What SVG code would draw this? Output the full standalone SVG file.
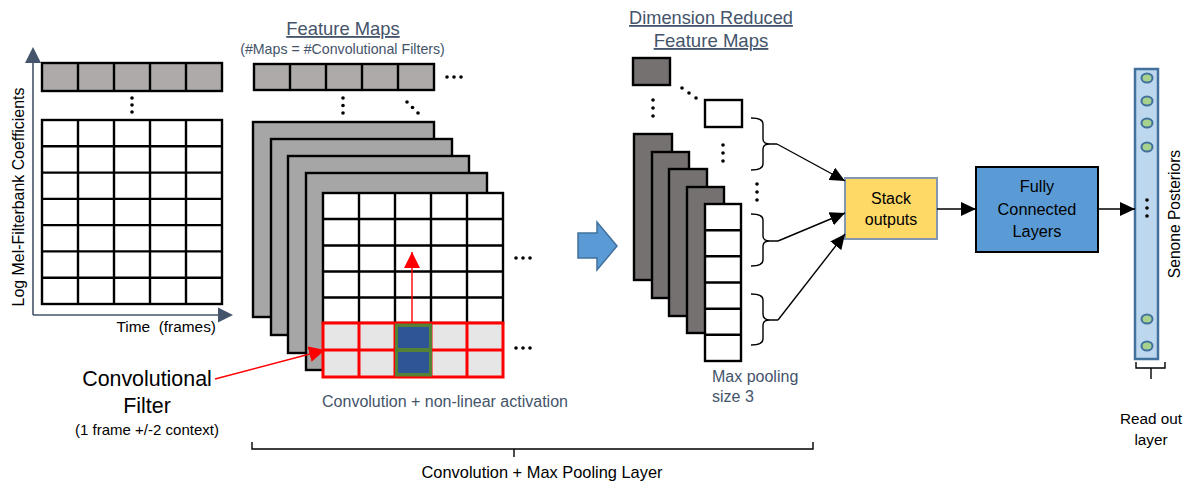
<svg xmlns="http://www.w3.org/2000/svg" width="1195" height="487" viewBox="0 0 1195 487">
<style>
text{font-family:"Liberation Sans",Arial,sans-serif;fill:#000}
.sl{fill:#44546A}
.ul{text-decoration:underline}
.c{text-anchor:middle}
.grid{fill:#fff;stroke:#000;stroke-width:2.4}
.gl{stroke:#000;stroke-width:2.4;fill:none}
.lg{fill:#AEAAAA;stroke:#000;stroke-width:2.4}
.mg{fill:#A6A6A6;stroke:#000;stroke-width:2.4}
.dg{fill:#767171;stroke:#000;stroke-width:2.4}
.wb{fill:#fff;stroke:#000;stroke-width:2.4}
.dot{fill:#000}
.br{fill:none;stroke:#000;stroke-width:1.4}
.con{stroke:#000;stroke-width:1.4;fill:none}
.red{stroke:#FF0000;stroke-width:1.4;fill:none}
.neu{fill:#A9D18E;stroke:#41719C;stroke-width:2}
</style>
<defs>
<marker id="ah" markerUnits="userSpaceOnUse" markerWidth="16" markerHeight="14" refX="15" refY="7" orient="auto">
<path d="M0,0 L15,7 L0,14 Z" fill="#000"/>
</marker>
<marker id="rh" markerUnits="userSpaceOnUse" markerWidth="17" markerHeight="16" refX="16" refY="8" orient="auto">
<path d="M0,0 L16,8 L0,16 Z" fill="#FF0000"/>
</marker>
</defs>

<!-- Input spectrogram -->
<g id="input">
<line x1="33" y1="315" x2="33" y2="60" stroke="#44546A" stroke-width="1.6"/>
<path d="M25,63 L41,63 L33,47 Z" fill="#44546A"/>
<line x1="33" y1="315" x2="220" y2="315" stroke="#44546A" stroke-width="1.6"/>
<path d="M218,307.5 L218,322.5 L233,315 Z" fill="#44546A"/>
<rect class="lg" x="42" y="63" width="180" height="28"/>
<path class="gl" d="M78,63V91M114,63V91M150,63V91M186,63V91"/>
<circle class="dot" cx="132" cy="98" r="1.8"/><circle class="dot" cx="132" cy="105" r="1.8"/><circle class="dot" cx="132" cy="112" r="1.8"/>
<rect class="grid" x="42" y="120" width="180" height="184"/>
<path class="gl" d="M78,120V304M114,120V304M150,120V304M186,120V304M42,146.3H222M42,172.6H222M42,198.9H222M42,225.1H222M42,251.4H222M42,277.7H222"/>
<text x="24" y="197" class="c" font-size="15.9" transform="rotate(-90 24 197)">Log Mel-Filterbank Coefficients</text>
<text x="216" y="332" font-size="15.4" text-anchor="end" style="white-space:pre">Time  (frames)</text>
</g>

<!-- Feature maps -->
<g id="feature-maps">
<text x="343" y="35" class="c sl ul" font-size="18.4">Feature Maps</text>
<text x="342.5" y="54" class="c sl" font-size="14.2">(#Maps = #Convolutional Filters)</text>
<rect class="lg" x="254" y="64" width="180" height="26"/>
<path class="gl" d="M290,64V90M326,64V90M362,64V90M398,64V90"/>
<circle class="dot" cx="447" cy="77" r="1.8"/><circle class="dot" cx="454" cy="77" r="1.8"/><circle class="dot" cx="461" cy="77" r="1.8"/>
<circle class="dot" cx="343" cy="98" r="1.8"/><circle class="dot" cx="343" cy="105.5" r="1.8"/><circle class="dot" cx="343" cy="113" r="1.8"/>
<circle class="dot" cx="407" cy="102" r="1.8"/><circle class="dot" cx="412.5" cy="107.5" r="1.8"/><circle class="dot" cx="418" cy="113" r="1.8"/>
<rect class="mg" x="253" y="122" width="181" height="195"/>
<rect class="mg" x="271" y="139" width="181" height="196"/>
<rect class="mg" x="288" y="156" width="181" height="197"/>
<rect class="mg" x="306" y="173" width="181" height="197"/>
<rect class="grid" x="323" y="193" width="180" height="130"/>
<path class="gl" d="M359,193V323M395,193V323M431,193V323M467,193V323M323,219H503M323,245.5H503M323,271.5H503M323,297.5H503"/>
<rect x="323" y="323" width="180" height="54" fill="#E7E6E6" stroke="#FF0000" stroke-width="3"/>
<path d="M359,323V377M395,323V377M431,323V377M467,323V377M323,350H503" stroke="#FF0000" stroke-width="3" fill="none"/>
<rect x="395" y="323.5" width="37" height="53" fill="#548235"/>
<rect x="398" y="327" width="31" height="21" fill="#2F5597"/>
<rect x="398" y="352" width="31" height="21" fill="#2F5597"/>
<circle class="dot" cx="516" cy="258" r="1.8"/><circle class="dot" cx="523" cy="258" r="1.8"/><circle class="dot" cx="530" cy="258" r="1.8"/>
<circle class="dot" cx="516" cy="348" r="1.8"/><circle class="dot" cx="523" cy="348" r="1.8"/><circle class="dot" cx="530" cy="348" r="1.8"/>
<text x="445" y="407" class="c sl" font-size="16">Convolution + non-linear activation</text>
</g>

<!-- Convolutional filter label -->
<g id="filter-label">
<text x="147" y="386" class="c" font-size="21.4">Convolutional</text>
<text x="147" y="413" class="c" font-size="21.4">Filter</text>
<text x="147" y="435" class="c" font-size="15">(1 frame +/-2 context)</text>
</g>

<!-- Transition arrow -->
<g id="transition-arrow">
<path d="M578,233 L597,233 L597,222 L617,246 L597,270 L597,258 L578,258 Z" fill="#5B9BD5" stroke="#41719C" stroke-width="1.5"/>
</g>

<!-- Dimension reduced feature maps -->
<g id="reduced-maps">
<text x="711" y="24" class="c sl ul" font-size="18.2">Dimension Reduced</text>
<text x="711" y="47" class="c sl ul" font-size="18.6">Feature Maps</text>
<rect class="dg" x="633" y="58" width="37" height="27"/>
<circle class="dot" cx="682" cy="88" r="1.8"/><circle class="dot" cx="689" cy="93" r="1.8"/><circle class="dot" cx="696" cy="98" r="1.8"/>
<circle class="dot" cx="653" cy="100" r="1.8"/><circle class="dot" cx="653" cy="108" r="1.8"/><circle class="dot" cx="653" cy="116" r="1.8"/>
<rect class="wb" x="705" y="100" width="37" height="27"/>
<circle class="dot" cx="723" cy="145" r="1.8"/><circle class="dot" cx="723" cy="153" r="1.8"/><circle class="dot" cx="723" cy="161" r="1.8"/>
<circle class="dot" cx="757" cy="184" r="1.8"/><circle class="dot" cx="757" cy="192" r="1.8"/><circle class="dot" cx="757" cy="200" r="1.8"/>
<rect class="dg" x="634" y="134" width="38" height="146"/>
<rect class="dg" x="652" y="152" width="37" height="146"/>
<rect class="dg" x="669" y="169" width="38" height="147"/>
<rect class="dg" x="687" y="187" width="37" height="146"/>
<rect class="wb" x="705" y="204" width="36" height="157"/>
<path class="gl" d="M705,230.2H741M705,256.3H741M705,282.5H741M705,308.7H741M705,334.8H741"/>
<path class="br" d="M751,118 Q763,118 763,124 V139 Q763,144 770,144 H777 M770,144 Q763,144 763,149 V164 Q763,170 751,170"/>
<path class="br" d="M751,214 Q763,214 763,220 V236 Q763,241 770,241 H778 M770,241 Q763,241 763,246 V260 Q763,266 751,266"/>
<path class="br" d="M751,294 Q763,294 763,300 V314 Q763,320 770,320 H778 M770,320 Q763,320 763,325 V339 Q763,345 751,345"/>
<text x="712" y="382" class="sl" font-size="16">Max pooling</text>
<text x="712" y="402" class="sl" font-size="16">size 3</text>
</g>

<!-- Stack outputs -->
<g id="stack-outputs">
<rect x="845" y="178" width="92" height="61" fill="#FFD966" stroke="#8497B0" stroke-width="2"/>
<text x="891" y="204" class="c" font-size="16">Stack</text>
<text x="891" y="225" class="c" font-size="16">outputs</text>
</g>

<!-- Fully connected -->
<g id="fully-connected">
<rect x="976" y="167" width="122" height="85" fill="#5B9BD5" stroke="#000" stroke-width="2"/>
<text x="1037" y="192" class="c" font-size="16.3">Fully</text>
<text x="1037" y="215" class="c" font-size="16.3">Connected</text>
<text x="1037" y="237" class="c" font-size="16.3">Layers</text>
</g>

<!-- Readout layer -->
<g id="readout">
<rect x="1135" y="69" width="23" height="290" fill="#BDD7EE" stroke="#41719C" stroke-width="2.5"/>
<ellipse class="neu" cx="1147" cy="78" rx="5.5" ry="4.5"/>
<ellipse class="neu" cx="1147" cy="101" rx="5.5" ry="4.5"/>
<ellipse class="neu" cx="1147" cy="123" rx="5.5" ry="4.5"/>
<ellipse class="neu" cx="1147" cy="147" rx="5.5" ry="4.5"/>
<ellipse class="neu" cx="1147" cy="319" rx="5.5" ry="4.5"/>
<ellipse class="neu" cx="1147" cy="346" rx="5.5" ry="4.5"/>
<circle class="dot" cx="1147" cy="200" r="1.8"/><circle class="dot" cx="1147" cy="208" r="1.8"/><circle class="dot" cx="1147" cy="216" r="1.8"/>
<text x="1180" y="214" class="c" font-size="15.6" transform="rotate(-90 1180 214)">Senone Posteriors</text>
<path class="br" d="M1136,362 V368 H1165 V362 M1151,368 V379"/>
<text x="1151" y="424" class="c" font-size="15.3">Read out</text>
<text x="1151" y="445" class="c" font-size="15.3">layer</text>
</g>

<!-- Layer bracket -->
<g id="layer-bracket">
<path class="br" d="M252,442 V449 H813 V442 M514,449 V457"/>
<text x="542" y="478" class="c" font-size="16.4">Convolution + Max Pooling Layer</text>
</g>

<!-- Connectors -->
<g id="connectors">
<line class="red" x1="412" y1="323" x2="412" y2="252" marker-end="url(#rh)"/>
<line class="red" x1="215" y1="379" x2="325" y2="350" marker-end="url(#rh)"/>
<line class="con" x1="777" y1="144" x2="845" y2="181" marker-end="url(#ah)"/>
<line class="con" x1="778" y1="241" x2="845" y2="213" marker-end="url(#ah)"/>
<line class="con" x1="778" y1="320" x2="845" y2="234" marker-end="url(#ah)"/>
<line class="con" x1="937" y1="209" x2="976" y2="209" marker-end="url(#ah)"/>
<line class="con" x1="1098" y1="209" x2="1135" y2="209" marker-end="url(#ah)"/>
</g>
</svg>
